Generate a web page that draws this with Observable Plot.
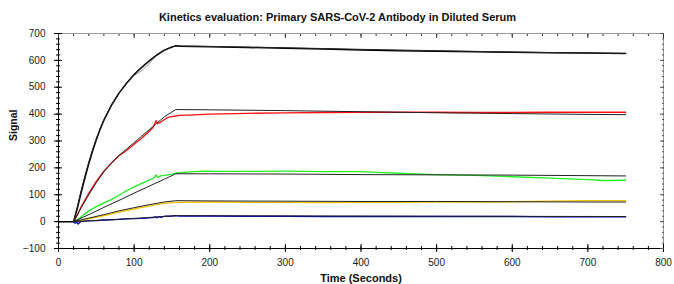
<!DOCTYPE html>
<html><head><meta charset="utf-8">
<script src="https://cdn.jsdelivr.net/npm/d3@7"></script>
<script src="https://cdn.jsdelivr.net/npm/@observablehq/plot@0.6"></script>
<style>body{margin:0;background:#fff} svg{display:block}</style>
</head><body><div id="chart"></div>
<script>
const title = "Kinetics evaluation: Primary SARS-CoV-2 Antibody in Diluted Serum";
const xLabel = "Time (Seconds)";
const yLabel = "Signal";
const xTicks = [0,100,200,300,400,500,600,700,800];
const yTicks = [-100,0,100,200,300,400,500,600,700];
const xMinor = d3.range(0, 801, 20);
const yMinor = d3.range(-100, 701, 20);

// measured curves (time s, signal)
const tBlack = [0,20,25,30,35,40,45,50,55,60,70,80,90,100,105,110,115,120,125,130,140,150,155,160,180,200,250,300,350,400,450,500,550,600,650,700,750];
const vBlack = [0,0,50,108,163,215,262,305,343,377,433,478,515,547,561,574,586,598,609,620,638,650,654,653,652,651,648,645,642,639,636,634,632,630,628,627,626];
const tBlackRep = [20,25,30,35,40,45,50,55,60,70,80,90,100,105,110,115,120,125,130,140,150,155];
const vBlackRep = [0,58,118,172,222,268,310,347,380,435,479,515,545,552,562,574,588,604,619,637,650,654];
const tRed = [20,25,30,35,40,50,60,70,80,90,100,110,120,125,127,129,131,135,140,145,150,155,160,180,200,250,300,350,400,450,500,550,600,650,700,750];
const vRed = [0,25,55,80,105,150,188,218,245,265,288,310,336,350,362,376,364,370,380,388,391,393,395,397,400,403,405,406,407,407,407,406,406,407,407,407];
const tGreen = [20,25,30,40,50,60,70,80,90,100,110,120,125,127,129,131,135,140,150,155,160,175,190,220,250,300,350,400,420,450,480,500,550,600,650,700,720,750];
const vGreen = [0,8,18,40,56,70,82,98,115,129,142,155,160,166,174,164,170,172,177,180,182,185,188,187,187,188,186,186,183,180,177,175,172,167,162,156,153,154];
const tYellow = [20,30,40,50,60,70,80,90,100,110,120,130,140,150,155,160,200,250,300,350,400,450,500,550,600,650,700,750];
const vYellow = [0,4,10,16,22,28,35,41,47,53,58,63,68,71,72,72,73,72,72,71,72,72,73,73,74,76,78,78];
const tBlue = [20,22,24,26,28,30,35,40,50,60,70,80,90,100,110,120,125,128,130,133,136,140,150,155,160,200,250,300,350,400,450,500,550,600,650,700,750];
const vBlue = [0,-6,-2,-9,-3,1,2,3,4,6,7,8,10,11,12,14,15,18,14,19,16,20,21,22,21,21,20,20,19,19,19,19,19,19,18,18,18];

// fitted curves
const tFitBlack = [20,25,30,35,40,45,50,55,60,70,80,90,100,110,120,130,140,150,155,200,300,400,500,600,700,750];
const vFitBlack = [0,55,115,170,220,266,308,345,378,433,478,515,547,574,598,620,638,650,654,652,647,641,636,631,627,626];
const tFitRed = [20,30,40,50,60,70,80,90,100,110,120,130,140,150,155,200,300,400,500,600,700,750];
const vFitRed = [0,52,100,145,185,218,246,270,294,318,342,366,390,408,417,416,413,409,405,402,399,398];
const tFitGreen = [20,40,60,80,100,120,140,155,200,300,400,500,600,700,750];
const vFitGreen = [0,26,53,79,106,132,158,178,178,177,175,174,173,171,170];
const tFitYellow = [20,40,60,80,100,120,140,155,200,300,400,500,600,700,750];
const vFitYellow = [0,13,26,40,52,63,73,78,77,76,75,75,74,73,73];
const tFitBlue = [20,60,100,155,300,500,750];
const vFitBlue = [0,6,12,22,21,20,19];

const rows = (t, v) => t.map((x, i) => ({t: x, v: v[i]}));
const font = "Liberation Sans, Arial, sans-serif";

const W = 674, H = 284, mL = 58, mR = 11, mT = 33, mB = 36;

const dataLine = (t, v, stroke, w) => Plot.line(rows(t, v), {x: "t", y: "v", stroke, strokeWidth: w});
const tickOpts = (anchor, size, shift, stroke) => ({
  anchor, tickSize: size, tickFormat: () => "", label: null, stroke,
  ...(anchor === "bottom" ? {dy: shift} : anchor === "top" ? {dy: shift} : {dx: shift})
});

const chart = Plot.plot({
  width: W, height: H,
  marginLeft: mL, marginRight: mR, marginTop: mT, marginBottom: mB,
  x: {domain: [0, 800]},
  y: {domain: [-100, 700]},
  style: {fontFamily: font, fontSize: "10px", color: "#222", background: "#fff"},
  marks: [
    Plot.frame({stroke: "#999"}),
    Plot.frame({anchor: "left", stroke: "#000"}),
    Plot.frame({anchor: "bottom", stroke: "#000"}),
    // tick labels
    Plot.axisX(xTicks, {anchor: "bottom", tickSize: 0, tickPadding: 10, label: null, fill: "#222"}),
    Plot.axisY(yTicks, {anchor: "left", tickSize: 0, tickPadding: 13, label: null, fill: "#222"}),
    // tick marks (axis ticks, shifted so they cross the axis or point inward)
    Plot.axisX(xTicks, tickOpts("bottom", 8, -4, "#000")),
    Plot.axisX(xMinor, tickOpts("bottom", 4, -2, "#000")),
    Plot.axisX(xTicks, tickOpts("top", 4, 4, "#333")),
    Plot.axisX(xMinor, tickOpts("top", 2, 2, "#333")),
    Plot.axisY(yTicks, tickOpts("left", 8, 4, "#000")),
    Plot.axisY(yMinor, tickOpts("left", 4, 2, "#000")),
    Plot.axisY(yTicks, tickOpts("right", 4, -4, "#555")),
    Plot.axisY(yMinor, tickOpts("right", 2, -2, "#555")),
    // data
    dataLine(tBlackRep, vBlackRep, "#999", 1),
    dataLine(tBlue, vBlue, "#0000cc", 1.3),
    dataLine(tYellow, vYellow, "#f2c200", 1.3),
    dataLine(tGreen, vGreen, "#22ee22", 1.3),
    dataLine(tRed, vRed, "#ff1010", 1.3),
    dataLine(tBlack, vBlack, "#000", 1.5),
    // fits
    dataLine(tFitBlue, vFitBlue, "#222", 1),
    dataLine(tFitYellow, vFitYellow, "#222", 1),
    dataLine(tFitGreen, vFitGreen, "#222", 1),
    dataLine(tFitRed, vFitRed, "#222", 1),
    dataLine(tFitBlack, vFitBlack, "#222", 1),
    // texts
    Plot.text([title], {frameAnchor: "top", lineAnchor: "middle", dx: -23.5, dy: -15.7, fontSize: 11, fontWeight: "bold", fill: "#111"}),
    Plot.text([xLabel], {frameAnchor: "bottom", lineAnchor: "middle", dy: 30.3, fontSize: 11, fontWeight: "bold", fill: "#111"}),
    Plot.text([yLabel], {frameAnchor: "left", lineAnchor: "middle", dx: -45, rotate: -90, fontSize: 10.5, fontWeight: "bold", fill: "#111"})
  ]
});
document.getElementById("chart").append(chart);
</script>
</body></html>
